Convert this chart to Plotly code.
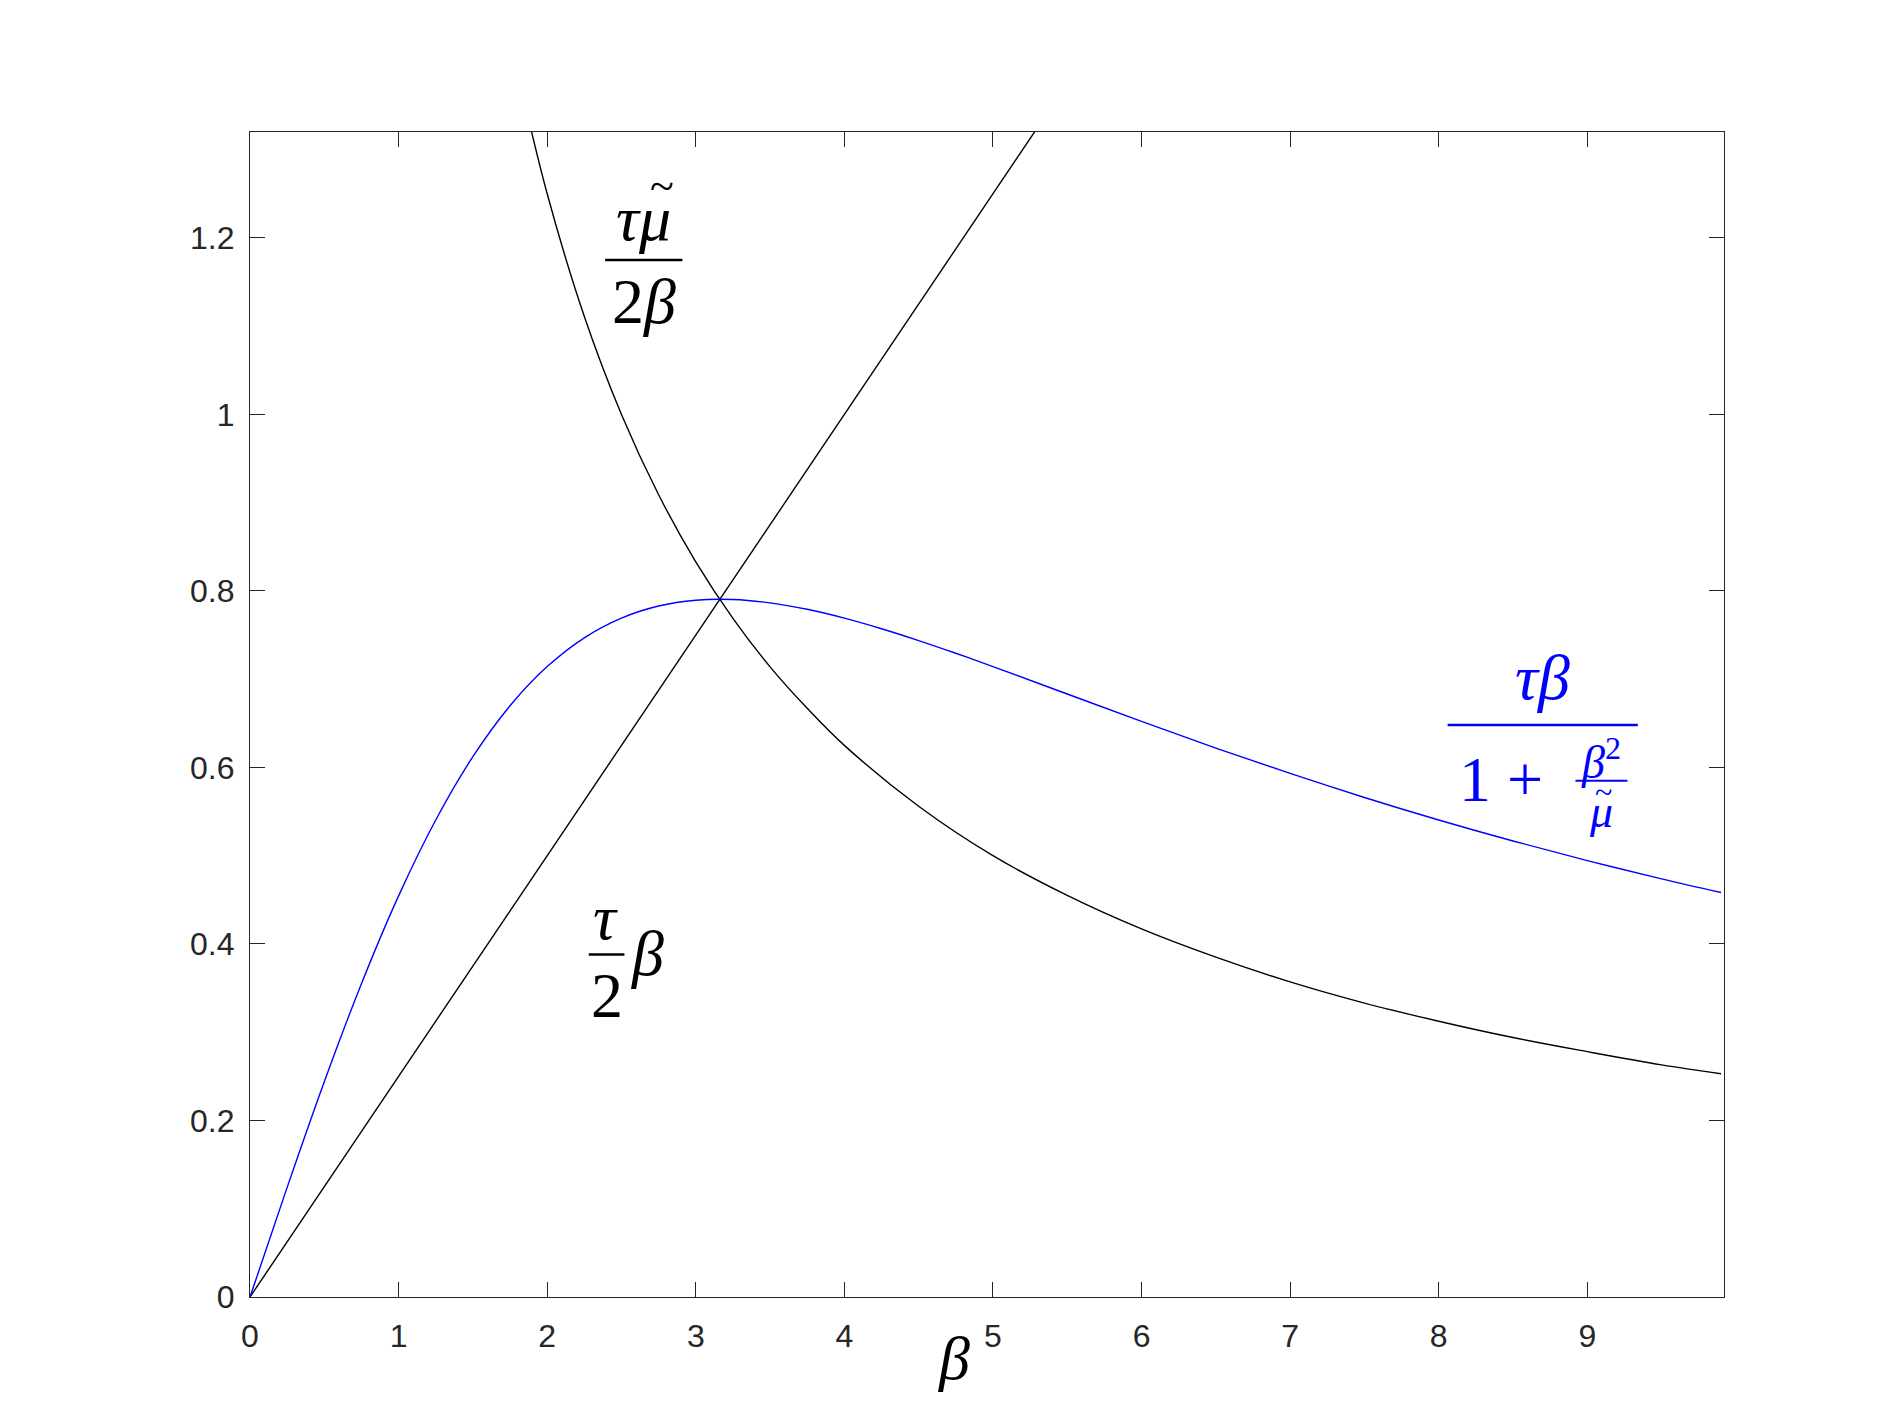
import plotly.graph_objects as go

# ----- data -----
line_beta = [0.0, 9.9]
line_vals = [0.0, 2.475]

hyp_beta = [1.8, 2.0, 2.25, 2.5, 2.75, 3.0, 3.25, 3.5, 3.75, 4.0, 4.5, 5.0, 5.5,
            6.0, 6.5, 7.0, 7.5, 8.0, 8.5, 9.0, 9.5, 9.9]
hyp_vals = [1.389, 1.25, 1.111, 1.0, 0.909, 0.833, 0.769, 0.714, 0.667, 0.625,
            0.556, 0.5, 0.455, 0.417, 0.385, 0.357, 0.333, 0.3125, 0.294, 0.278,
            0.263, 0.253]

blue_beta = [0.0, 0.25, 0.5, 0.75, 1.0, 1.25, 1.5, 1.75, 2.0, 2.25, 2.5, 2.75, 3.0,
             3.25, 3.5, 3.75, 4.0, 4.25, 4.5, 4.75, 5.0, 5.5, 6.0, 6.5, 7.0, 7.5,
             8.0, 8.5, 9.0, 9.5, 9.9]
blue_vals = [0.0, 0.1242, 0.2439, 0.355, 0.4545, 0.5405, 0.6122, 0.6699, 0.7143,
             0.7469, 0.7692, 0.7829, 0.7895, 0.7903, 0.7865, 0.7792, 0.7692, 0.7572,
             0.7438, 0.7294, 0.7143, 0.6832, 0.6522, 0.622, 0.5932, 0.566, 0.5405,
             0.5167, 0.4945, 0.4738, 0.4583]

y_ticks = [0, 0.2, 0.4, 0.6, 0.8, 1.0, 1.2]
y_labels = ["0", "0.2", "0.4", "0.6", "0.8", "1", "1.2"]

AX = "#262626"
MATH = "Liberation Serif"

fig = go.Figure()
fig.add_trace(go.Scatter(x=line_beta, y=line_vals, mode="lines",
                         line=dict(color="black", width=1.4)))
fig.add_trace(go.Scatter(x=hyp_beta, y=hyp_vals, mode="lines",
                         line=dict(color="black", width=1.4, shape="spline")))
fig.add_trace(go.Scatter(x=blue_beta, y=blue_vals, mode="lines",
                         line=dict(color="#0000ff", width=1.4, shape="spline")))

# ----- math labels (no MathJax offline, so fractions are built by hand) -----
def txt(x, y, s, size, color="black", xref="x", yref="y"):
    fig.add_annotation(x=x, y=y, xref=xref, yref=yref, text=s, showarrow=False,
                       font=dict(family=MATH, size=size, color=color),
                       xanchor="center", yanchor="middle")

def bar(x0, x1, y, color="black", w=2.5):
    fig.add_shape(type="line", xref="x", yref="y", x0=x0, x1=x1, y0=y, y1=y,
                  line=dict(color=color, width=w))

# tau mu~ / 2 beta
txt(2.65, 1.222, "<i>τμ</i>", 64)
txt(2.77, 1.258, "~", 44)
bar(2.39, 2.91, 1.175)
txt(2.65, 1.128, "2<i>β</i>", 64)

# tau/2 beta
txt(2.39, 0.43, "<i>τ</i>", 64)
bar(2.28, 2.52, 0.388)
txt(2.40, 0.342, "2", 64)
txt(2.67, 0.389, "<i>β</i>", 64)

# blue: tau beta / (1 + beta^2/mu~)
B = "#0000ff"
txt(8.70, 0.702, "<i>τβ</i>", 64, B)
bar(8.06, 9.34, 0.648, B)
txt(8.42, 0.586, "1 +", 64, B)
txt(9.09, 0.610, "<i>β</i><sup>2</sup>", 46, B)
bar(8.92, 9.27, 0.585, B, 2)
txt(9.09, 0.550, "<i>μ</i>", 46, B)
txt(9.11, 0.572, "~", 32, B)

# x axis label
txt(4.74, -0.052, "<i>β</i>", 62, "black", "x", "paper")

fig.update_layout(
    width=1904, height=1428,
    margin=dict(l=242, r=188, t=124, b=139),
    paper_bgcolor="white", plot_bgcolor="white",
    showlegend=False,
    font=dict(family="Liberation Sans", size=32, color=AX),
)
fig.update_xaxes(range=[0, 9.92], tickmode="linear", tick0=0, dtick=1,
                 ticks="inside", ticklen=15, tickcolor=AX, tickwidth=1.3,
                 ticklabelstandoff=10,
                 showline=True, linecolor=AX, linewidth=1.3, mirror="ticks",
                 showgrid=False, zeroline=False)
fig.update_yaxes(range=[0, 1.32], tickvals=y_ticks, ticktext=y_labels,
                 ticks="inside", ticklen=15, tickcolor=AX, tickwidth=1.3,
                 ticklabelstandoff=8,
                 showline=True, linecolor=AX, linewidth=1.3, mirror="ticks",
                 showgrid=False, zeroline=False)

fig.write_html("out.html")
